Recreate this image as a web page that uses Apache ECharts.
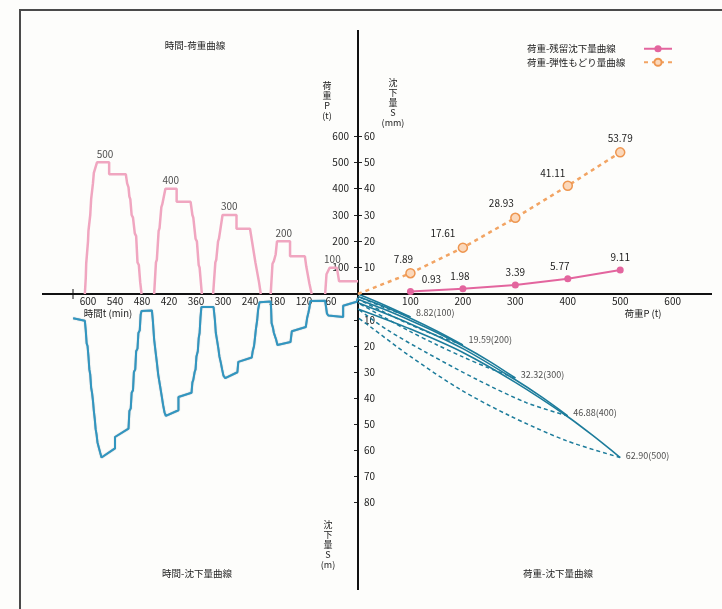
<!DOCTYPE html>
<html><head><meta charset="utf-8">
<script src="https://cdn.jsdelivr.net/npm/echarts@6/dist/echarts.min.js"></script>
<style>html,body{margin:0;padding:0;background:#fdfdfb}#c{width:722px;height:609px}</style>
</head><body><div id="c"></div>
<script>
const FONT = '"Noto Sans CJK JP", "Noto Sans", sans-serif';

// ---- time - load curve (t [min], P [t]) one array per cycle ----
const timeLoad500 = [[607,0],[605,60],[604,115],[602,120],[600,200],[599,240],[597,245],[595,300],[593,360],[591,365],[589,420],[587,460],[585,465],[580,500],[553,500],[553,455],[516,455],[513,420],[510,405],[508,370],[506,360],[503,300],[500,290],[496,230],[493,220],[490,120],[487,110],[484,45],[481,0]];
const timeLoad400 = [[453,0],[449,120],[447,130],[443,240],[441,250],[437,330],[435,340],[428,400],[403,400],[403,350],[372,350],[368,300],[366,290],[361,210],[358,200],[354,110],[352,100],[347,0]];
const timeLoad300 = [[322,0],[317,120],[315,130],[311,200],[309,210],[305,255],[301,300],[270,300],[270,248],[240,248],[236,205],[233,200],[228,120],[225,115],[220,45],[216,0]];
const timeLoad200 = [[194,0],[190,115],[187,125],[183,150],[180,200],[151,200],[151,143],[118,143],[115,105],[111,100],[108,40],[103,0]];
const timeLoad100 = [[73,0],[70,75],[68,80],[63,100],[47,100],[42,48],[0,48]];
const peakTimes = [562,416,286,165,57];
const peakLoads = [500,400,300,200,100];

// ---- time - settlement curve (t [min], S [mm]) ----
const timeSettlement = [
 [633,9.3],[607,10.3],[605,14],[603,19],[601,20],[599,24],[597,29],[595,31],[593,36],[591,38],[589,41],[587,45],[585,48],[583,52],[581,54],[579,57],[576,59],[573,61],[570,62.9],
 [540,59.4],[540,55],[510,51.8],[508,45],[505,44],[503,38],[500,37],[498,30],[495,29],[493,22],[490,21],[488,15],[485,14],[483,8],[481,6.5],[458,6.3],
 [456,10],[453,17.5],[450,22],[447,26.3],[444,31],[440,35.2],[436,39.5],[433,42.8],[430,45.5],[427,46.88],[399,44.7],[399,39.6],[370,38],[368,34],[366,33],[363,30],[361,29],[359,24],[356,22],[354,17],[352,15],[350,9],[348,5],[346,4.6],[321,5],
 [318,10],[316,14.9],[313,18],[310,21.3],[308,24],[305,26.3],[302,29],[299,31.4],[295,32.32],[268,30.1],[266,26.1],[236,24.4],[234,22],[231,20],[229,17],[227,13.7],[224,10],[222,6.1],[219,3.2],[194,2.9],
 [193,6],[192,11.2],[189,13],[187,14.9],[184,16.5],[182,17.5],[179,19.59],[150,18.5],[147,14.3],[116,12.7],[113,9.2],[110,7],[108,5.4],[106,2.7],[73,2.6],
 [71,5],[69,7.5],[66,8.3],[63,8.82],[33,8.82],[33,4.5],[3,3],[0,1.5]
];

// ---- load - settlement summary ----
const loadSteps = [100,200,300,400,500];
const residualSettlement = [0.93,1.98,3.39,5.77,9.11];
const elasticRebound = [7.89,17.61,28.93,41.11,53.79];
const maxSettlement = [8.82,19.59,32.32,46.88,62.90];

// ---- load - settlement loops (P [t], S [mm]) ----
const loading1 = [[0,0],[50,4.2],[100,8.82]];
const loading2 = [[0,0.93],[50,4.8],[100,9.3],[150,14.2],[200,19.59]];
const loading3 = [[0,1.98],[50,5.9],[100,10.2],[150,14.8],[200,20],[250,25.8],[300,32.32]];
const loading4 = [[0,3.39],[100,11.5],[200,21],[300,33],[350,39.6],[400,46.88]];
const loading5 = [[0,5.77],[100,13.5],[200,22.5],[300,34],[400,47.2],[450,54.8],[500,62.9]];
const unloading1 = [[100,8.82],[50,5.2],[0,0.93]];
const unloading2 = [[200,19.59],[150,16],[100,11.8],[50,7],[0,1.98]];
const unloading3 = [[300,32.32],[250,28.5],[200,24.2],[150,19.5],[100,14.5],[50,9],[0,3.39]];
const unloading4 = [[400,46.88],[321,41.8],[226,32.8],[131,22.6],[55,13.7],[0,5.77]];
const unloading5 = [[500,62.9],[397,56.4],[289,46.8],[194,36.6],[99,23.9],[23,12.5],[0,9.11]];

const chart = echarts.init(document.getElementById('c'), null, {renderer:'canvas'});
const lbl = {fontFamily: FONT, fontSize: 10, color: '#222'};
const pink = '#f0a6c0', blue = '#3196c0', teal = '#1d7c9b';

function timeAxis(grid, showLabel){
  return {gridIndex: grid, type:'value', min:0, max:700, interval:60, inverse:true,
    position: showLabel ? 'bottom' : 'top',
    axisLine:{show:false}, axisTick:{show:false}, splitLine:{show:false},
    axisLabel:{show:showLabel, ...lbl, margin:2, formatter: v => (v>=60 && v<=600) ? String(v) : ''}};
}
function loadAxis(grid, showLabel){
  return {gridIndex: grid, type:'value', min:0, max:675, interval:100,
    position: showLabel ? 'bottom' : 'top',
    axisLine:{show:false}, axisTick:{show:false}, splitLine:{show:false},
    axisLabel:{show:showLabel, ...lbl, margin:2, formatter: v => (v>=100 && v<=600) ? String(v) : ''}};
}

const loadSeries = [timeLoad500,timeLoad400,timeLoad300,timeLoad200,timeLoad100].map(d => ({
  type:'line', xAxisIndex:0, yAxisIndex:0, data:d, showSymbol:false, symbol:'none',
  lineStyle:{color:pink, width:2.5}, z:3
}));
const loopSeries = [];
[loading1,loading2,loading3,loading4,loading5].forEach(d => loopSeries.push({
  type:'line', xAxisIndex:3, yAxisIndex:3, data:d, symbol:'none', smooth:0.3,
  lineStyle:{color:teal, width:1.6}
}));
[unloading1,unloading2,unloading3,unloading4,unloading5].forEach(d => loopSeries.push({
  type:'line', xAxisIndex:3, yAxisIndex:3, data:d, symbol:'none', smooth:0.3,
  lineStyle:{color:teal, width:1.5, type:[4,3]}
}));

const resOffsets = [[21,0],[-3,0],[0,0],[-8,0],[0,0]];
const elaOffsets = [[-7,0],[-20,0],[-14,0],[-15,2],[0,0]];
const maxOffsets = [[0,-4],[0,-5],[0,-3],[0,-3],[0,-2]];

const option = {
  animation:false,
  backgroundColor:'#fdfdfb',
  textStyle:{fontFamily:FONT},
  grid:[
    {left:43, right:364, top:136, bottom:315},
    {left:358, right:10, top:136, bottom:315},
    {left:43, right:364, top:294, bottom:107},
    {left:358, right:10, top:294, bottom:107}
  ],
  xAxis:[timeAxis(0,true), loadAxis(1,true), timeAxis(2,false), loadAxis(3,false)],
  yAxis:[
    {gridIndex:0, type:'value', min:0, max:600, interval:100, position:'right',
      axisLine:{show:false}, splitLine:{show:false},
      axisTick:{show:true, length:4, lineStyle:{color:'#222'}},
      axisLabel:{inside:true, ...lbl, margin:9, formatter: v => v>0 ? String(v) : ''}},
    {gridIndex:1, type:'value', min:0, max:60, interval:10, position:'left',
      axisLine:{show:false}, splitLine:{show:false},
      axisTick:{show:true, length:4, lineStyle:{color:'#222'}},
      axisLabel:{inside:true, ...lbl, margin:6, formatter: v => v>0 ? String(v) : ''}},
    {gridIndex:2, type:'value', min:0, max:80, interval:10, inverse:true, position:'right',
      axisLine:{show:false}, splitLine:{show:false},
      axisTick:{show:true, inside:true, length:4, lineStyle:{color:'#222'}},
      axisLabel:{show:false}},
    {gridIndex:3, type:'value', min:0, max:80, interval:10, inverse:true, position:'left',
      axisLine:{show:false}, splitLine:{show:false}, axisTick:{show:false},
      axisLabel:{inside:true, ...lbl, margin:6, formatter: v => v>0 ? String(v) : ''}}
  ],
  legend:{
    orient:'vertical', left:527, top:44, padding:0, align:'right', itemGap:4, itemWidth:28, itemHeight:9,
    formatter: name => '{t|' + name + '}',
    textStyle:{fontFamily:FONT, fontSize:9.5, color:'#222',
      rich:{t:{fontFamily:FONT, fontSize:9.5, color:'#222', width:112, align:'left'}}},
    data:['荷重-残留沈下量曲線','荷重-弾性もどり量曲線']
  },
  series:[
    ...loadSeries,
    {type:'scatter', xAxisIndex:0, yAxisIndex:0, symbolSize:1, itemStyle:{color:'rgba(0,0,0,0)'},
      data: peakTimes.map((t,i)=>[t, peakLoads[i]]),
      label:{show:true, position:'top', distance:3, ...lbl, formatter: p => String(p.value[1])}},
    {type:'line', xAxisIndex:2, yAxisIndex:2, data: timeSettlement, symbol:'none',
      lineStyle:{color:blue, width:2, shadowColor:'rgba(20,70,100,0.5)', shadowBlur:1}},
    ...loopSeries,
    {type:'scatter', xAxisIndex:3, yAxisIndex:3, symbolSize:1, itemStyle:{color:'rgba(0,0,0,0)'},
      data: loadSteps.map((p,i)=>({value:[p, maxSettlement[i]], label:{offset:maxOffsets[i]}})),
      label:{show:true, position:'right', distance:5, fontFamily:FONT, fontSize:9, color:'#222',
        formatter: p => p.value[1].toFixed(2) + '(' + p.value[0] + ')'}},
    {name:'荷重-残留沈下量曲線', type:'line', xAxisIndex:1, yAxisIndex:1,
      data: loadSteps.map((p,i)=>({value:[p, residualSettlement[i]], label:{offset:resOffsets[i]}})),
      symbol:'circle', symbolSize:7, lineStyle:{color:'#e3659e', width:2},
      itemStyle:{color:'#e3659e'}, z:5,
      label:{show:true, position:'top', distance:4, fontFamily:FONT, fontSize:10, color:'#222',
        formatter: p => p.value[1].toFixed(2)}},
    {name:'荷重-弾性もどり量曲線', type:'line', xAxisIndex:1, yAxisIndex:1,
      data: [{value:[0,0], symbol:'none', label:{show:false}}].concat(
        loadSteps.map((p,i)=>({value:[p, elasticRebound[i]], label:{offset:elaOffsets[i]}}))),
      symbol:'circle', symbolSize:9, lineStyle:{color:'#f2a463', width:2.5, type:[4,4]},
      itemStyle:{color:'#fbd8bb', borderColor:'#ee9650', borderWidth:1.5}, z:5,
      label:{show:true, position:'top', distance:4, fontFamily:FONT, fontSize:10, color:'#222',
        formatter: p => p.value[1].toFixed(2)}}
  ],
  graphic:[
    {type:'rect', z:-1, shape:{x:20, y:10, width:720, height:620}, style:{fill:'none', stroke:'#4a4a4a', lineWidth:2}},
    {type:'line', z:1, shape:{x1:358, y1:30, x2:358, y2:590}, style:{stroke:'#111', lineWidth:2}},
    {type:'line', z:1, shape:{x1:42, y1:294, x2:712, y2:294}, style:{stroke:'#111', lineWidth:2}},
    {type:'line', z:1, shape:{x1:73, y1:289, x2:73, y2:299}, style:{stroke:'#111', lineWidth:1}},
    {type:'text', style:{text:'時間-荷重曲線', x:195, y:45, textAlign:'center', textVerticalAlign:'middle', font:'9.5px '+FONT, fill:'#222'}},
    {type:'text', style:{text:'時間-沈下量曲線', x:197, y:573, textAlign:'center', textVerticalAlign:'middle', font:'9.5px '+FONT, fill:'#222'}},
    {type:'text', style:{text:'荷重-沈下量曲線', x:558, y:573, textAlign:'center', textVerticalAlign:'middle', font:'9.5px '+FONT, fill:'#222'}},
    {type:'text', style:{text:'時間t (min)', x:108, y:313, textAlign:'center', textVerticalAlign:'middle', font:'9.5px '+FONT, fill:'#222'}},
    {type:'text', style:{text:'荷重P (t)', x:643, y:313, textAlign:'center', textVerticalAlign:'middle', font:'9.5px '+FONT, fill:'#222'}},
    {type:'text', style:{text:'荷\n重\nP\n(t)', x:327, y:81, textAlign:'center', lineHeight:10, font:'9px '+FONT, fill:'#222'}},
    {type:'text', style:{text:'沈\n下\n量\nS\n(mm)', x:393, y:78, textAlign:'center', lineHeight:10, font:'9px '+FONT, fill:'#222'}},
    {type:'text', style:{text:'沈\n下\n量\nS\n(m)', x:328, y:520, textAlign:'center', lineHeight:10, font:'9px '+FONT, fill:'#222'}}
  ]
};
chart.setOption(option);
</script></body></html>
